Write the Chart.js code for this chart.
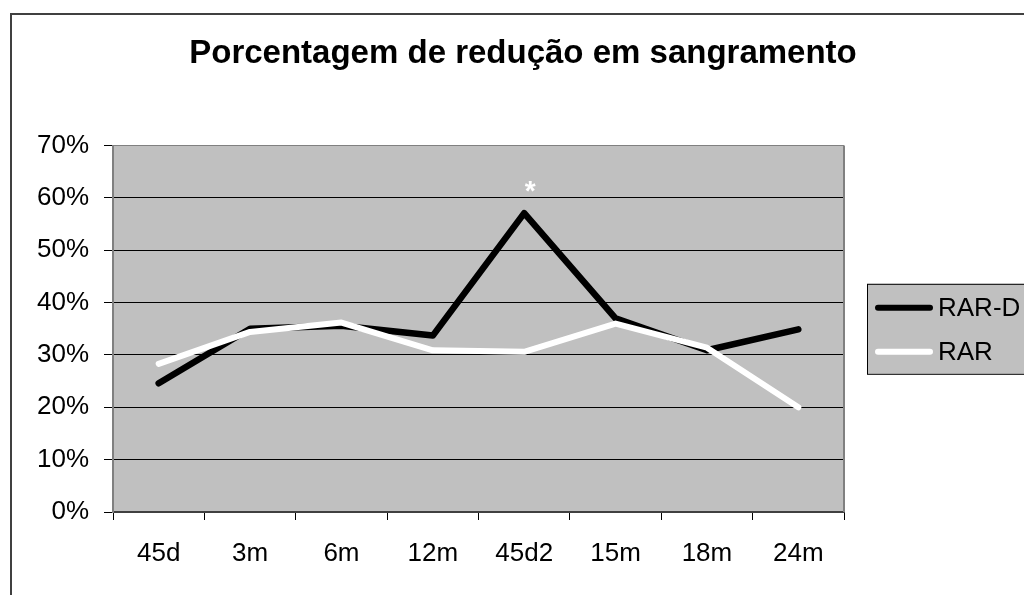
<!DOCTYPE html>
<html>
<head>
<meta charset="utf-8">
<script src="https://cdn.jsdelivr.net/npm/chart.js@4/dist/chart.umd.min.js"></script>
<style>
  html, body { margin: 0; padding: 0; background: #ffffff; overflow: hidden; }
  #wrap { position: absolute; left: 0; top: 0; width: 1024px; height: 595px; }
</style>
</head>
<body>
<div id="wrap"><canvas id="c" width="1024" height="595"></canvas></div>
<script>
const chartTitle = 'Porcentagem de redução em sangramento';
const categories = ['45d', '3m', '6m', '12m', '45d2', '15m', '18m', '24m'];
const seriesNames = ['RAR-D', 'RAR'];
const rarD = [24.6, 35.0, 35.6, 33.7, 57.1, 37.0, 30.9, 34.9];
const rar  = [28.3, 34.4, 36.2, 30.9, 30.6, 36.0, 31.4, 20.0];
const yTicks = [0, 10, 20, 30, 40, 50, 60, 70];
const markers = [{ category: '45d2', value: 62.5, text: '*' }];

const FONT = "'Liberation Sans', Arial, sans-serif";

const framePlugin = {
  id: 'frame',
  beforeDraw(chart) {
    const { ctx, chartArea: a } = chart;
    ctx.save();
    ctx.fillStyle = '#ffffff';
    ctx.fillRect(0, 0, chart.width, chart.height);
    ctx.strokeStyle = '#404040';
    ctx.lineWidth = 2;
    ctx.strokeRect(11, 14, 1200, 800);
    ctx.fillStyle = '#C0C0C0';
    ctx.fillRect(a.left, a.top, a.right - a.left, a.bottom - a.top);
    ctx.restore();
  },
  beforeDatasetsDraw(chart) {
    const { ctx, chartArea: a } = chart;
    ctx.save();
    ctx.strokeStyle = '#808080';
    ctx.lineWidth = 2;
    ctx.beginPath();
    ctx.moveTo(a.right, a.top);
    ctx.lineTo(a.right, a.bottom);
    ctx.stroke();
    ctx.restore();
  },
  afterDatasetsDraw(chart) {
    const { ctx } = chart;
    const xs = chart.scales.x, ys = chart.scales.y;
    ctx.save();
    ctx.fillStyle = '#ffffff';
    ctx.font = 'bold 28px ' + FONT;
    ctx.textAlign = 'center';
    ctx.textBaseline = 'middle';
    markers.forEach(m => {
      const x = xs.getPixelForValue(categories.indexOf(m.category)) + 6;
      const y = ys.getPixelForValue(m.value) + 7;
      ctx.fillText(m.text, x, y);
    });
    ctx.restore();
  },
  afterDraw(chart) {
    const { ctx, chartArea: a } = chart;
    const left = a.right + 23;
    const cy = (a.top + a.bottom) / 2;
    const top = cy - 45;
    ctx.save();
    ctx.fillStyle = '#C0C0C0';
    ctx.fillRect(left, top, 400, 90);
    ctx.strokeStyle = '#000000';
    ctx.lineWidth = 1;
    ctx.strokeRect(left + 0.5, top + 0.5, 400, 90);
    ctx.font = '26px ' + FONT;
    ctx.textAlign = 'left';
    ctx.textBaseline = 'middle';
    chart.data.datasets.forEach((ds, i) => {
      const y = top + 24 + i * 44;
      ctx.strokeStyle = ds.borderColor;
      ctx.lineWidth = 6;
      ctx.lineCap = 'round';
      ctx.beginPath();
      ctx.moveTo(left + 11, y);
      ctx.lineTo(left + 63, y);
      ctx.stroke();
      ctx.fillStyle = '#000000';
      ctx.fillText(ds.label, left + 71, y + 1);
    });
    ctx.restore();
  }
};

new Chart(document.getElementById('c'), {
  type: 'line',
  data: {
    labels: categories,
    datasets: [
      { label: seriesNames[0], data: rarD, borderColor: '#000000', backgroundColor: '#000000',
        borderWidth: 6.5, pointRadius: 0, tension: 0, order: 1,
        borderCapStyle: 'round', borderJoinStyle: 'round' },
      { label: seriesNames[1], data: rar, borderColor: '#ffffff', backgroundColor: '#ffffff',
        borderWidth: 6, pointRadius: 0, tension: 0, order: 0,
        borderCapStyle: 'round', borderJoinStyle: 'round' }
    ]
  },
  options: {
    responsive: false,
    animation: false,
    devicePixelRatio: 1,
    layout: { padding: { left: 22, right: 0, top: 0, bottom: 0 } },
    plugins: {
      legend: { display: false },
      tooltip: { enabled: false },
      title: {
        display: true,
        text: chartTitle,
        color: '#000000',
        font: { family: FONT, size: 33, weight: 'bold' },
        padding: { top: 34, bottom: 72 }
      }
    },
    scales: {
      x: {
        type: 'category',
        offset: true,
        afterFit(scale) { scale.height = 83; },
        grid: { offset: true, drawOnChartArea: false, drawTicks: true, tickLength: 8, color: '#000000' },
        border: { display: true, color: '#404040', width: 2 },
        ticks: { color: '#000000', font: { family: FONT, size: 26 }, padding: 18, maxRotation: 0, autoSkip: false }
      },
      y: {
        min: 0,
        max: 70,
        afterFit(scale) { scale.width = 91; },
        afterBuildTicks(scale) { scale.ticks = yTicks.map(v => ({ value: v })); },
        grid: {
          color: ctx => (ctx.tick && ctx.tick.value === 70) ? '#808080' : '#000000',
          tickColor: '#000000',
          tickLength: 9,
          lineWidth: 1
        },
        border: { display: true, color: '#808080', width: 2 },
        ticks: { color: '#000000', font: { family: FONT, size: 26 }, padding: 15,
                 callback: v => v + '%' }
      },
      legendSpace: {
        type: 'linear',
        position: 'right',
        min: 0,
        max: 1,
        afterFit(scale) { scale.width = 180; },
        grid: { display: false },
        border: { display: false },
        ticks: { display: false }
      }
    }
  },
  plugins: [framePlugin]
});
</script>
</body>
</html>
